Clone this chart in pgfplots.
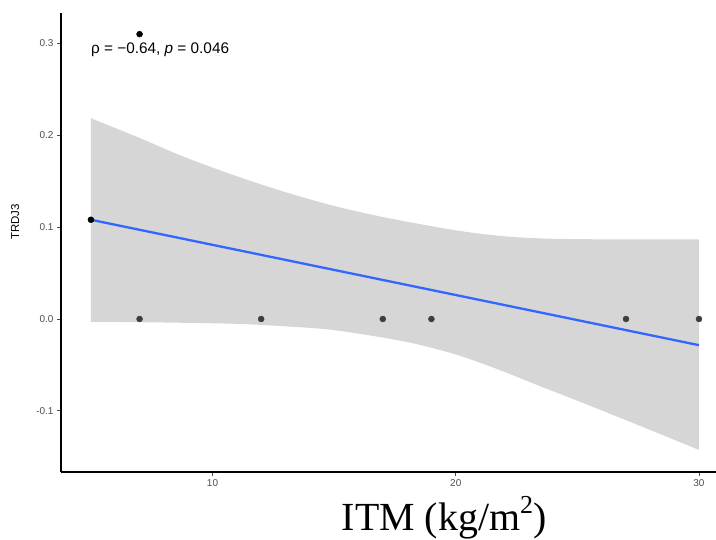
\documentclass[border=0pt]{standalone}
\usepackage{pgfplots}
\pgfplotsset{compat=1.18}
\usepgfplotslibrary{fillbetween}
\usepackage{fontspec}
\setmainfont{Liberation Sans}
\newfontfamily\timesfont{Liberation Serif}
\definecolor{bandgray}{RGB}{214,214,214}
\definecolor{lineblue}{RGB}{51,102,255}
\definecolor{ticktext}{RGB}{77,77,77}
\definecolor{inband}{RGB}{61,61,61}
\begin{document}
\begin{tikzpicture}
\begin{axis}[
  at={(0,0)}, anchor=south west,
  scale only axis,
  width=655bp, height=459bp,
  xmin=3.77, xmax=30.7,
  ymin=-0.1665, ymax=0.333,
  axis lines=left,
  axis line style={-, line width=1.1bp, black},
  xtick={10,20,30}, xticklabels={10,20,30},
  ytick={-0.1,0,0.1,0.2,0.3}, yticklabels={-0.1,0.0,0.1,0.2,0.3},
  tick align=outside,
  major tick length=4bp,
  tick style={line width=0.8bp, color=ticktext},
  tick label style={font=\fontsize{10}{12}\selectfont, text=ticktext},
  /pgf/number format/assume math mode=true,
  ylabel={TRDJ3},
  ylabel style={font=\fontsize{11.5}{13}\selectfont, at={(axis description cs:-0.070,0.545)}, anchor=center, rotate=0},
  xlabel={\timesfont ITM (kg/m\raisebox{0.42em}{\fontsize{26}{28}\selectfont 2})},
  xlabel style={font=\fontsize{40}{44}\selectfont, at={(axis description cs:0.585,-0.100)}, anchor=center},
  clip=false,
]
% confidence band
\addplot[name path=upper, draw=none, smooth] coordinates {
  (5,0.2185) (7,0.197) (8.87,0.176) (10.93,0.156) (13,0.138) (15,0.123) (17,0.111) (19,0.101) (20,0.0965) (21,0.0928) (22,0.090) (23,0.0883) (24,0.0873) (26,0.0867) (28,0.0866) (30,0.0866)
};
\addplot[name path=lower, draw=none, smooth] coordinates {
  (5,-0.003) (7,-0.0035) (9,-0.0042) (11.15,-0.0054) (13,-0.008) (14.7,-0.0112) (16.5,-0.018) (18.25,-0.0265) (20.05,-0.039) (21.8,-0.0555) (23.5,-0.0735) (25.1,-0.090) (27.5,-0.1155) (30,-0.1425)
};
\addplot[fill=bandgray, draw=none] fill between[of=upper and lower];
% points
\addplot[only marks, mark=*, mark size=3bp, color=inband] coordinates {
  (7,0) (12,0) (17,0) (19,0) (27,0) (30,0)
};
\addplot[only marks, mark=*, mark size=3bp, color=black] coordinates {
  (5,0.108) (7,0.310)
};
% regression line
\addplot[color=lineblue, line width=2.3bp] coordinates {(5,0.108) (30,-0.0285)};
\node[anchor=base west, inner sep=0pt, font=\fontsize{15.4}{17}\selectfont] at (axis cs:5,0.289) {ρ = −0.64, \textit{p} = 0.046};
\end{axis}
\pgfresetboundingbox
\path[use as bounding box] (-61bp,-68bp) rectangle (655bp,472bp);
\end{tikzpicture}
\end{document}
